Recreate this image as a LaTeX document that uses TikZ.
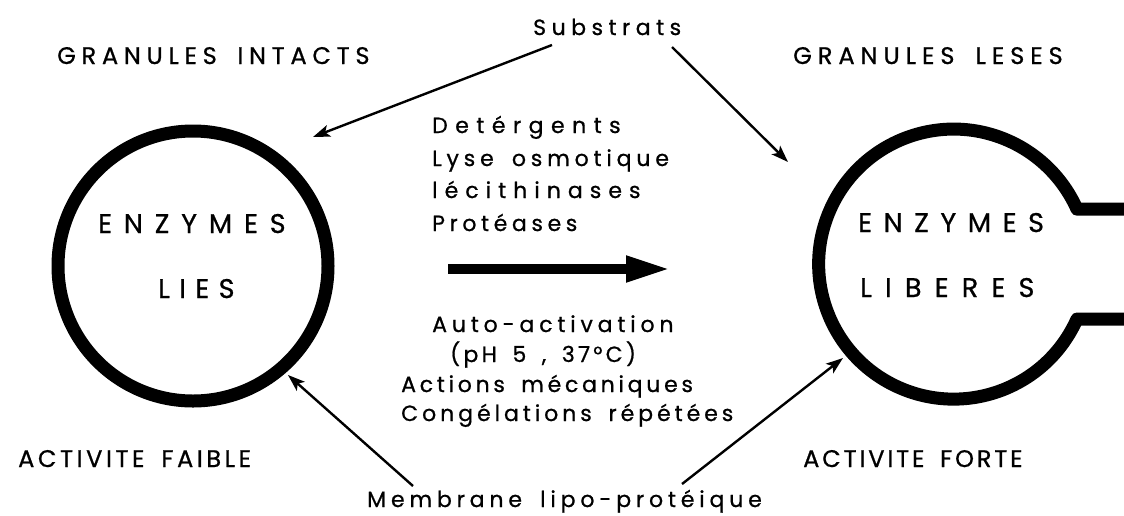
\documentclass[tikz,border=0pt]{standalone}
\usepackage{fontspec}
\setmainfont{Poppins}[FakeBold=0.8, WordSpace=1.7]
\usetikzlibrary{arrows.meta}
\newcommand\lsp[2]{{\addfontfeature{LetterSpace=#1}#2}}
\begin{document}
\begin{tikzpicture}[x=1pt,y=-1pt,
  txt/.style={inner sep=0pt, anchor=base west, font=\fontsize{22}{26}\selectfont},
  caps/.style={inner sep=0pt, anchor=base west, font=\fontsize{24}{28}\selectfont},
  big/.style={inner sep=0pt, anchor=base west, font=\fontsize{27}{30}\selectfont},
  thinarr/.style={-{Stealth[length=17pt,width=12pt,inset=4pt]}, line width=2.4pt},
  ring/.style={line width=13pt},
  fatarr/.style={-{Triangle[length=45pt,width=24pt]}, line width=10pt}]
\useasboundingbox (0,0) rectangle (1124,515);
% titles
\node[txt] (subs) at (533,35) {\lsp{25}{Substrats}};
\node[caps] (gi) at (57,64) {\lsp{24}{GRANULES INTACTS}};
\node[caps] (gl) at (793,64) {\lsp{25}{GRANULES LESES}};
% middle list
\node[txt] (det) at (432,133) {\lsp{34}{Detérgents}};
\node[txt] (lys) at (432,166) {\lsp{22}{Lyse osmotique}};
\node[txt] (lec) at (432,198) {\lsp{32}{lécithinases}};
\node[txt] (pro) at (432,231) {\lsp{21}{Protéases}};
\node[txt] (aut) at (432,332) {\lsp{22}{Auto-activation}};
\node[txt] (ph) at (450,362) {\lsp{15}{(pH 5 , 37°C)}};
\node[txt] (act) at (401,392) {\lsp{17}{Actions mécaniques}};
\node[txt] (con) at (401,421) {\lsp{18}{Congélations répétées}};
% bottom labels
\node[caps] (af) at (18,467) {\lsp{15}{ACTIVITE FAIBLE}};
\node[caps] (afo) at (803,467) {\lsp{12}{ACTIVITE FORTE}};
\node[txt] (mem) at (367,507) {\lsp{22}{Membrane lipo-protéique}};
% left granule
\node[circle, draw, ring, minimum size=270pt, inner sep=0pt] (L) at (193,266) {};
\node[big] (enz1) at (98,233) {\lsp{44}{ENZYMES}};
\node[big] (lies) at (158,298) {\lsp{35}{LIES}};
% right granule (opened)
\coordinate (R) at (954,264);
\draw[ring, line join=round] (1124,319) -- (1077,319) arc[start angle=24, end angle=336, radius=135] -- (1124,209);
\node[big] (enz2) at (858,232) {\lsp{43}{ENZYMES}};
\node[big] (lib) at (860,297) {\lsp{49}{LIBERES}};
% big arrow
\coordinate (fa1) at (448,269);
\coordinate (fa2) at (671,269);
\draw[fatarr] (fa1) -- (fa2);
% thin arrows
\coordinate (s1) at (552,45);
\coordinate (t1) at (313,137);
\coordinate (s2) at (672,47);
\coordinate (t2) at (788,162);
\coordinate (m1) at (413,486);
\coordinate (u1) at (288,375);
\coordinate (m2) at (682,484);
\coordinate (u2) at (843,358);
\draw[thinarr] (s1) -- (t1);
\draw[thinarr] (s2) -- (t2);
\draw[thinarr] (m1) -- (u1);
\draw[thinarr] (m2) -- (u2);
\end{tikzpicture}
\end{document}
